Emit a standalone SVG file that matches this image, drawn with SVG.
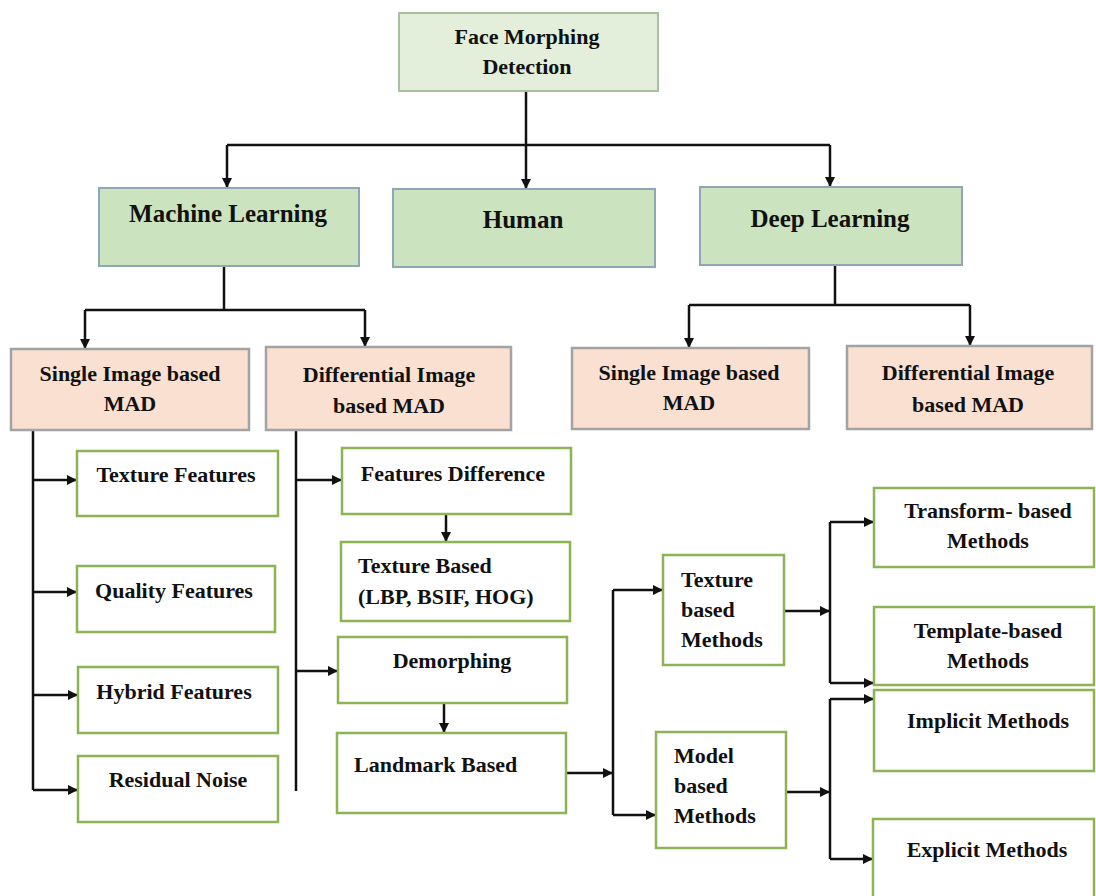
<svg xmlns="http://www.w3.org/2000/svg" width="1096" height="896" viewBox="0 0 1096 896">
<style>
text{font-family:"Liberation Serif","Times New Roman",serif;font-weight:bold;font-size:22px;fill:#111}
.c{text-anchor:middle}
.big{font-size:25px}
.top{fill:#e3efdb;stroke:#a9bfa2;stroke-width:2}
.l1{fill:#cce3c0;stroke:#8fa6b5;stroke-width:2}
.pe{fill:#f9e0d1;stroke:#a3a3a3;stroke-width:2.5}
.gr{fill:#fff;stroke:#8cb453;stroke-width:2.5}
.ln{fill:none;stroke:#111;stroke-width:2.5}
.ar{fill:none;stroke:#111;stroke-width:2.5;marker-end:url(#ah)}
</style>
<defs>
<marker id="ah" markerUnits="userSpaceOnUse" markerWidth="10" markerHeight="10" refX="10" refY="5" orient="auto">
<path d="M0,0 L10,5 L0,10 z" fill="#111"/>
</marker>
</defs>
<rect width="1096" height="896" fill="#fff"/>

<g id="connectors">
<path class="ln" d="M526,91 V145 M227,145 H830"/>
<path class="ar" d="M227,145 V188"/>
<path class="ar" d="M526,145 V189"/>
<path class="ar" d="M830,145 V187"/>
<path class="ln" d="M224,266 V310 M85,310 H365"/>
<path class="ar" d="M85,310 V349"/>
<path class="ar" d="M365,310 V347"/>
<path class="ln" d="M835,265 V305 M689,305 H970"/>
<path class="ar" d="M689,305 V348"/>
<path class="ar" d="M970,305 V346"/>
<path class="ln" d="M33,430 V790"/>
<path class="ar" d="M33,480 H77"/>
<path class="ar" d="M33,592 H77"/>
<path class="ar" d="M33,695 H78"/>
<path class="ar" d="M33,790 H78"/>
<path class="ln" d="M296,430 V791"/>
<path class="ar" d="M296,480 H342"/>
<path class="ar" d="M296,671 H338"/>
<path class="ar" d="M446,514 V542"/>
<path class="ar" d="M444,703 V733"/>
<path class="ar" d="M566,773 H613"/>
<path class="ln" d="M613,590 V815"/>
<path class="ar" d="M613,590 H663"/>
<path class="ar" d="M613,815 H656"/>
<path class="ar" d="M784,611 H830"/>
<path class="ln" d="M830,522 V683"/>
<path class="ar" d="M830,522 H874"/>
<path class="ar" d="M830,683 H874"/>
<path class="ar" d="M786,792 H830"/>
<path class="ln" d="M830,699 V859"/>
<path class="ar" d="M830,699 H874"/>
<path class="ar" d="M830,859 H873"/>
</g>

<g id="face-morphing-detection">
<rect class="top" x="399" y="13" width="259" height="78"/>
<text class="c" x="527" y="44">Face Morphing</text>
<text class="c" x="527" y="74">Detection</text>
</g>
<g id="machine-learning">
<rect class="l1" x="99" y="188" width="260" height="78"/>
<text class="c big" x="228" y="222">Machine Learning</text>
</g>
<g id="human">
<rect class="l1" x="393" y="189" width="262" height="78"/>
<text class="c big" x="523" y="228">Human</text>
</g>
<g id="deep-learning">
<rect class="l1" x="700" y="187" width="262" height="78"/>
<text class="c big" x="830" y="227">Deep Learning</text>
</g>

<g id="ml-single">
<rect class="pe" x="11" y="349" width="238" height="81"/>
<text class="c" x="130" y="381">Single Image based</text>
<text class="c" x="130" y="411">MAD</text>
</g>
<g id="ml-differential">
<rect class="pe" x="266" y="347" width="245" height="83"/>
<text class="c" x="389" y="382">Differential Image</text>
<text class="c" x="389" y="413">based MAD</text>
</g>
<g id="dl-single">
<rect class="pe" x="572" y="348" width="237" height="81"/>
<text class="c" x="689" y="380">Single Image based</text>
<text class="c" x="689" y="410">MAD</text>
</g>
<g id="dl-differential">
<rect class="pe" x="847" y="346" width="245" height="83"/>
<text class="c" x="968" y="380">Differential Image</text>
<text class="c" x="968" y="412">based MAD</text>
</g>

<g id="texture-features">
<rect class="gr" x="77" y="451" width="201" height="65"/>
<text class="c" x="176" y="482">Texture Features</text>
</g>
<g id="quality-features">
<rect class="gr" x="77" y="566" width="198" height="66"/>
<text class="c" x="174" y="598">Quality Features</text>
</g>
<g id="hybrid-features">
<rect class="gr" x="78" y="667" width="200" height="66"/>
<text class="c" x="174" y="699">Hybrid Features</text>
</g>
<g id="residual-noise">
<rect class="gr" x="78" y="756" width="200" height="66"/>
<text class="c" x="178" y="787">Residual Noise</text>
</g>

<g id="features-difference">
<rect class="gr" x="342" y="448" width="229" height="66"/>
<text class="c" x="453" y="481">Features Difference</text>
</g>
<g id="texture-based">
<rect class="gr" x="341" y="542" width="229" height="79"/>
<text x="358" y="573">Texture Based</text>
<text x="358" y="604">(LBP, BSIF, HOG)</text>
</g>
<g id="demorphing">
<rect class="gr" x="338" y="637" width="229" height="66"/>
<text class="c" x="452" y="668">Demorphing</text>
</g>
<g id="landmark-based">
<rect class="gr" x="337" y="733" width="229" height="80"/>
<text x="354" y="772">Landmark Based</text>
</g>

<g id="texture-based-methods">
<rect class="gr" x="663" y="555" width="121" height="110"/>
<text x="681" y="587">Texture</text>
<text x="681" y="617">based</text>
<text x="681" y="647">Methods</text>
</g>
<g id="model-based-methods">
<rect class="gr" x="656" y="732" width="130" height="116"/>
<text x="674" y="763">Model</text>
<text x="674" y="793">based</text>
<text x="674" y="823">Methods</text>
</g>

<g id="transform-based-methods">
<rect class="gr" x="874" y="488" width="220" height="79"/>
<text class="c" x="988" y="518">Transform- based</text>
<text class="c" x="988" y="548">Methods</text>
</g>
<g id="template-based-methods">
<rect class="gr" x="874" y="607" width="220" height="78"/>
<text class="c" x="988" y="638">Template-based</text>
<text class="c" x="988" y="668">Methods</text>
</g>
<g id="implicit-methods">
<rect class="gr" x="874" y="690" width="220" height="81"/>
<text class="c" x="988" y="728">Implicit Methods</text>
</g>
<g id="explicit-methods">
<rect class="gr" x="873" y="819" width="221" height="90"/>
<text class="c" x="987" y="857">Explicit Methods</text>
</g>
</svg>
